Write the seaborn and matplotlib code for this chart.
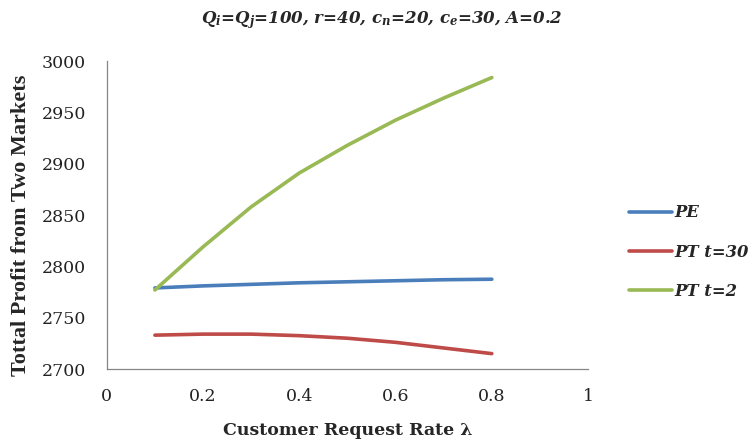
import pandas as pd
import matplotlib
matplotlib.use('Agg')
import matplotlib.pyplot as plt
import seaborn as sns

# data
lam = [0.1, 0.2, 0.3, 0.4, 0.5, 0.6, 0.7, 0.8]
pe = [2779, 2781, 2782.5, 2784, 2785, 2786, 2787, 2787.5]
pt_30 = [2733, 2734, 2734, 2732.5, 2730, 2726, 2720.5, 2715]
pt_2 = [2777, 2819, 2858, 2891, 2918, 2942.5, 2964, 2984]
series_names = ['PE', 'PT t=30', 'PT t=2']
colors = ['#4A7EBB', '#BE4B48', '#98B954']
x_ticks = [0, 0.2, 0.4, 0.6, 0.8, 1]
y_ticks = [2700, 2750, 2800, 2850, 2900, 2950, 3000]

df = pd.DataFrame({
    'lam': lam * 3,
    'profit': pe + pt_30 + pt_2,
    'series': [s for s in series_names for _ in lam],
})

sns.set_style('white')
plt.rcParams['font.family'] = ['DejaVu Serif']
plt.rcParams['mathtext.fontset'] = 'custom'
plt.rcParams['mathtext.rm'] = 'DejaVu Serif:bold:italic'
plt.rcParams['mathtext.it'] = 'DejaVu Serif:bold:italic'

fig = plt.figure(figsize=(7.52, 4.43), dpi=100)
ax = fig.add_axes([0.142, 0.167, 0.64, 0.695])

sns.lineplot(data=df, x='lam', y='profit', hue='series', hue_order=series_names,
             palette=colors, linewidth=2.6, ax=ax)

ax.set_xlim(0, 1)
ax.set_ylim(2700, 3000)
ax.set_xticks(x_ticks)
ax.set_xticklabels(['0', '0.2', '0.4', '0.6', '0.8', '1'])
ax.set_yticks(y_ticks)
ax.tick_params(axis='both', labelsize=12.5, length=0, colors='#222222')
ax.tick_params(axis='x', pad=14)
ax.tick_params(axis='y', pad=15)

for s in ['top', 'right']:
    ax.spines[s].set_visible(False)
for s in ['left', 'bottom']:
    ax.spines[s].set_color('#868686')
    ax.spines[s].set_linewidth(0.9)

ax.set_xlabel('Customer Request Rate λ', fontsize=12.5, fontweight='bold')
ax.xaxis.set_label_coords(0.501, -0.172)
ax.set_ylabel('Tottal Profit from Two Markets', fontsize=16, fontweight='bold',
              family='Liberation Serif')
ax.yaxis.set_label_coords(-0.158, 0.466)

fig.text(0.507, 0.955, 'Q$_i$=Q$_j$=100, r=40, c$_n$=20, c$_e$=30, A=0.2',
         ha='center', va='center', fontsize=12, fontweight='bold', fontstyle='italic')

leg = ax.legend(loc='center left', bbox_to_anchor=(1.055, 0.38), frameon=False,
                handlelength=2.6, handletextpad=0.15, labelspacing=1.35,
                prop={'size': 11.8, 'weight': 'bold', 'style': 'italic'})

plt.savefig('out.png', dpi=100)
